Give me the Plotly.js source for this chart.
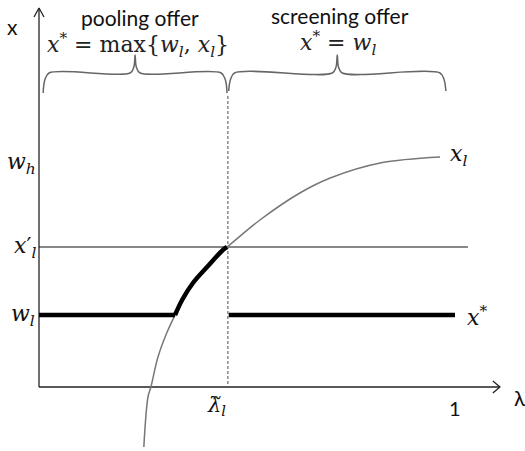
<!DOCTYPE html>
<html>
<head>
<meta charset="utf-8">
<script src="https://cdn.plot.ly/plotly-3.0.1.min.js"></script>
<style>
  html, body { margin: 0; padding: 0; background: #fff; }
  #chart { width: 525px; height: 451px; }
</style>
</head>
<body>
<div id="chart"></div>
<script>
// levels on the vertical axis
const wl = 0.72;       // w_l
const xlPrime = 1.40;  // x'_l
const wh = 2.24;       // w_h
const lamTilde = 0.454; // lambda tilde_l
const lamOne = 1.0;

// x_l curve
const curveLam = [0.252, 0.262, 0.269, 0.286, 0.308, 0.327, 0.344, 0.370, 0.404, 0.442, 0.452, 0.531, 0.627, 0.700, 0.820, 0.964];
const curveVal = [-0.60, -0.10, 0.00, 0.30, 0.55, 0.72, 0.87, 1.04, 1.20, 1.37, 1.40, 1.67, 1.94, 2.09, 2.24, 2.30];

// x* follows x_l between w_l and x'_l
const thickLam = [0.327, 0.344, 0.370, 0.404, 0.442, 0.452];
const thickVal = [0.72, 0.87, 1.04, 1.20, 1.37, 1.40];

const braceY = 3.14;   // flat part of the braces
const braceTip = 3.32; // middle point of a brace

function brace(x0, x1, yEnd) {
  const xm = (x0 + x1) / 2;
  return {
    x: [x0, x0 + 0.004, x0 + 0.014, xm - 0.012, xm - 0.003, xm, xm + 0.003, xm + 0.012, x1 - 0.014, x1 - 0.004, x1],
    y: [yEnd, braceY - 0.07, braceY, braceY, braceY + 0.06, braceTip, braceY + 0.06, braceY, braceY, braceY - 0.07, yEnd],
  };
}

function line(x, y, color, width, extra) {
  return {
    x: x, y: y, mode: 'lines', type: 'scatter',
    line: Object.assign({ color: color, width: width }, extra || {}),
    hoverinfo: 'skip',
  };
}

function label(x, y, text, size, family, anchor, color) {
  return {
    x: x, y: y, xref: 'x', yref: 'y', text: text, showarrow: false,
    xanchor: anchor || 'center', yanchor: 'middle',
    font: { size: size, family: family, color: color || '#111' },
  };
}

function drawChart() {
  const b1 = brace(0.010, lamTilde - 0.002, 2.94);
  const b2 = brace(lamTilde + 0.002, 0.978, 2.96);

  const traces = [
    // axes
    line([0, 0], [0, 3.79], '#222', 1.3),
    line([-0.012, 0, 0.012], [3.70, 3.79, 3.70], '#222', 1.3),
    line([0, 1.108], [0, 0], '#222', 1.3),
    line([1.091, 1.108, 1.091], [0.06, 0, -0.06], '#222', 1.3),
    // x'_l level
    line([0, 1.031], [xlPrime, xlPrime], '#111', 1.1),
    // lambda tilde
    line([lamTilde, lamTilde], [0.03, 2.92], '#777', 1.3, { dash: '3px,2px' }),
    // x_l curve
    line(curveLam, curveVal, '#777', 1.5, { shape: 'spline' }),
    // x*
    line([0, thickLam[0]], [wl, wl], '#000', 4.5),
    line(thickLam, thickVal, '#000', 4.5, { shape: 'spline' }),
    line([lamTilde + 0.002, lamOne], [wl, wl], '#000', 4.5),
    // braces
    line(b1.x, b1.y, '#666', 1.5, { shape: 'spline' }),
    line(b2.x, b2.y, '#666', 1.5, { shape: 'spline' }),
  ];

  const sans = 'Lato, "Open Sans", sans-serif';
  const serif = '"DejaVu Serif", "Liberation Serif", serif';

  const annotations = [
    label(-0.063, 3.61, 'x', 21, sans),
    label(-0.002, wh, '<i>w<sub>h</sub></i>', 22, serif, 'right'),
    label(-0.002, xlPrime, '<i>x</i>′<sub><i>l</i></sub>', 22, serif, 'right'),
    label(-0.005, wl, '<i>w<sub>l</sub></i>', 22, serif, 'right'),
    label(0.426, -0.19, '<i>λ̃<sub>l</sub></i>', 21, serif),
    label(lamOne, -0.21, '1', 20, sans),
    label(1.156, -0.10, 'λ', 21, sans),
    label(0.983, 2.32, '<i>x<sub>l</sub></i>', 22, serif, 'left'),
    label(1.024, 0.71, '<i>x</i><sup>*</sup>', 22, serif, 'left'),
    label(0.243, 3.70, 'pooling offer', 21, sans),
    label(0.238, 3.42, '<i>x</i><sup>*</sup> = max{<i>w<sub>l</sub></i>, <i>x<sub>l</sub></i>}', 22, serif, 'center', '#222'),
    label(0.724, 3.72, 'screening offer', 21, sans),
    label(0.719, 3.44, '<i>x</i><sup>*</sup> = <i>w<sub>l</sub></i>', 22, serif, 'center', '#222'),
  ];

  const layout = {
    width: 525,
    height: 451,
    margin: { l: 0, r: 0, t: 0, b: 0 },
    paper_bgcolor: '#fff',
    plot_bgcolor: '#fff',
    showlegend: false,
    xaxis: { range: [-0.09375, 1.16827], visible: false, fixedrange: true },
    yaxis: { range: [-0.64, 3.87], visible: false, fixedrange: true },
    annotations: annotations,
  };

  Plotly.newPlot('chart', traces, layout, { displayModeBar: false, staticPlot: true });
}

document.addEventListener('DOMContentLoaded', drawChart);
</script>
</body>
</html>
